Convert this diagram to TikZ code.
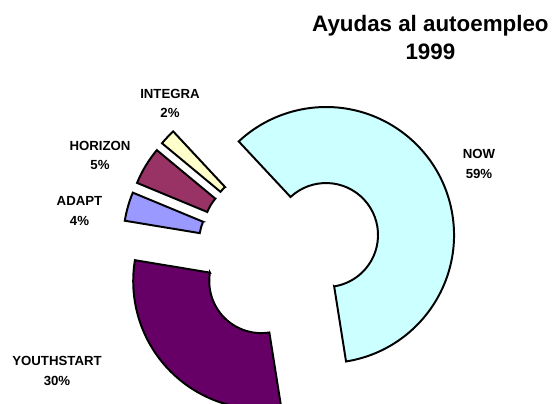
\documentclass[tikz,border=0pt]{standalone}
\usepackage{fontspec}
\setmainfont{Liberation Sans}
\usepackage{xcolor}
\usepackage{tikz}

\definecolor{nowcyan}{HTML}{CCFFFF}
\definecolor{youthplum}{HTML}{660066}
\definecolor{adaptblue}{HTML}{9999FF}
\definecolor{horizonred}{HTML}{993366}
\definecolor{integraivory}{HTML}{FFFFCC}

\tikzset{
  slice/.style={draw=black, line width=1.4pt, line join=miter},
  lbl/.style={align=center, font=\fontsize{9.4}{13.8}\selectfont\bfseries}
}

\begin{document}
\begin{tikzpicture}
\useasboundingbox (0,0) rectangle (13.95,10.075);
\clip (0,0) rectangle (13.95,10.075);
\coordinate (O) at (7.245,3.7575);

\filldraw[slice, fill=nowcyan, shift={(O)}, shift={(26:1.0075)}]
(279:1.3) -- (279:3.2) arc[start angle=279, end angle=493, radius=3.2] -- (493:1.3) arc[start angle=493, end angle=279, radius=1.3] -- cycle;
\filldraw[slice, fill=integraivory, shift={(O)}, shift={(136.65:1.0075)}]
(133:1.3) -- (133:3.2) arc[start angle=133, end angle=140.3, radius=3.2] -- (140.3:1.3) arc[start angle=140.3, end angle=133, radius=1.3] -- cycle;
\filldraw[slice, fill=horizonred, shift={(O)}, shift={(148.9:1.0075)}]
(140.3:1.3) -- (140.3:3.2) arc[start angle=140.3, end angle=157.5, radius=3.2] -- (157.5:1.3) arc[start angle=157.5, end angle=140.3, radius=1.3] -- cycle;
\filldraw[slice, fill=adaptblue, shift={(O)}, shift={(164.05:1.0075)}]
(157.5:1.3) -- (157.5:3.2) arc[start angle=157.5, end angle=170.6, radius=3.2] -- (170.6:1.3) arc[start angle=170.6, end angle=157.5, radius=1.3] -- cycle;
\filldraw[slice, fill=youthplum, shift={(O)}, shift={(224.8:1.0075)}]
(170.6:1.3) -- (170.6:3.2) arc[start angle=170.6, end angle=279, radius=3.2] -- (279:1.3) arc[start angle=279, end angle=170.6, radius=1.3] -- cycle;

\node[font=\fontsize{15.9}{20.6}\selectfont\bfseries, align=center] (title) at (10.76,9.1375) {Ayudas al autoempleo\\1999};
\node[lbl] (now) at (11.975,5.975) {NOW\\59\%};
\node[lbl] (integra) at (4.25,7.485) {INTEGRA\\2\%};
\node[lbl] (horizon) at (2.5,6.19) {HORIZON\\5\%};
\node[lbl] (adapt) at (1.9875,4.8) {ADAPT\\4\%};
\node[lbl] (youthstart) at (1.425,0.806) {YOUTHSTART\\30\%};
\end{tikzpicture}
\end{document}
